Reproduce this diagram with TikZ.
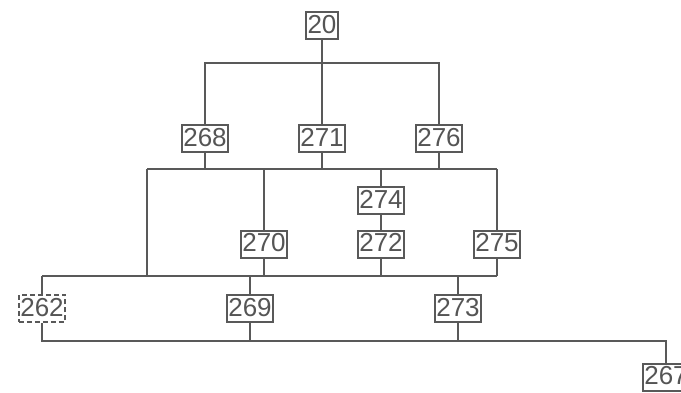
\documentclass[tikz,border=0pt]{standalone}
\usepackage{fontspec}
\setmainfont{Liberation Sans}
\definecolor{lineg}{HTML}{595959}
\definecolor{textg}{HTML}{555555}
\tikzset{
  nd/.style={draw=lineg, line width=2pt, fill=white, text=textg,
    font=\fontsize{26}{26}\selectfont, inner xsep=1.5pt, inner ysep=1.5pt,
    text height=19.5pt, text depth=4.5pt},
  ln/.style={draw=lineg, line width=2pt},
  dnd/.style={nd, dash pattern=on 5pt off 3pt}
}
\begin{document}
\begin{tikzpicture}[x=1pt,y=1pt]
\useasboundingbox (0,0) rectangle (681,392);
% nodes
\node[nd] (n20) at (322,366) {20};
\node[nd] (n268) at (205,253.5) {268};
\node[nd] (n271) at (322,253.5) {271};
\node[nd] (n276) at (439,253.5) {276};
\node[nd] (n274) at (381,191.5) {274};
\node[nd] (n272) at (381,148) {272};
\node[nd] (n270) at (264,148) {270};
\node[nd] (n275) at (497,148) {275};
\node[dnd] (n262) at (42,83.5) {262};
\node[nd] (n269) at (250,83.5) {269};
\node[nd] (n273) at (458,83.5) {273};
\node[nd] (n267) at (666,15) {267};
% bus coordinates
\coordinate (B1) at (0,329);
\coordinate (L2) at (147,223);
\coordinate (L3) at (147,116);
\coordinate (B4) at (0,51);
% connectors
\begin{scope}[on background layer/.style={}]
\draw[ln] (n20) -- (n20 |- B1);
\draw[ln] (n268) |- (n276 |- B1) -- (n276);
\draw[ln] (n271) -- (n271 |- B1);
\draw[ln] (n268) -- (n268 |- L2);
\draw[ln] (n271) -- (n271 |- L2);
\draw[ln] (n276) -- (n276 |- L2);
\draw[ln] (L2) -- (n275 |- L2);
\draw[ln] (L2) -- (L3);
\draw[ln] (n270 |- L2) -- (n270) -- (n270 |- L3);
\draw[ln] (n274 |- L2) -- (n274) -- (n272) -- (n272 |- L3);
\draw[ln] (n275 |- L2) -- (n275) -- (n275 |- L3);
\draw[ln] (n262 |- L3) -- (n275 |- L3);
\draw[ln] (n262 |- L3) -- (n262);
\draw[ln] (n269 |- L3) -- (n269);
\draw[ln] (n273 |- L3) -- (n273);
\draw[ln] (n262) |- (n267 |- B4) -- (n267);
\draw[ln] (n269) -- (n269 |- B4);
\draw[ln] (n273) -- (n273 |- B4);
\end{scope}
\end{tikzpicture}
\end{document}
